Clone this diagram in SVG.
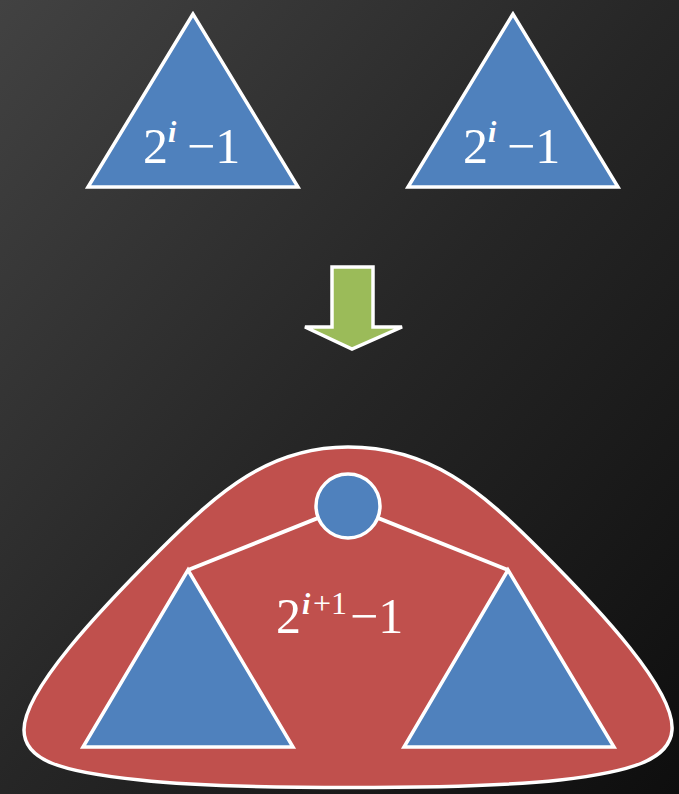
<svg xmlns="http://www.w3.org/2000/svg" width="679" height="794" viewBox="0 0 679 794">
  <defs>
    <linearGradient id="bg" x1="0" y1="0" x2="1" y2="1">
      <stop offset="0" stop-color="#424242"/>
      <stop offset="0.5" stop-color="#262626"/>
      <stop offset="1" stop-color="#0e0e0e"/>
    </linearGradient>
  </defs>
  <style>
    .tri { fill: #4F81BD; stroke: #FFFFFF; stroke-width: 3.5; stroke-linejoin: miter; }
    .lbl { fill: #FFFFFF; font-family: "Liberation Serif", "Times New Roman", serif; font-size: 50px; }
    .sup { fill: #FFFFFF; font-family: "Liberation Serif", "Times New Roman", serif; font-style: italic; font-weight: bold; font-size: 30px; }
    .sup2 { fill: #FFFFFF; font-family: "Liberation Serif", "Times New Roman", serif; font-size: 32px; }
    .edge { stroke: #FFFFFF; stroke-width: 4; fill: none; }
  </style>
  <rect x="0" y="0" width="679" height="794" fill="url(#bg)"/>

  <g id="tree-left">
    <polygon class="tri" points="193,14 88,187 298,187"/>
    <text class="lbl" x="143" y="163">2</text>
    <text class="sup" x="168" y="142">i</text>
    <text class="lbl" x="187" y="163">−1</text>
  </g>

  <g id="tree-right">
    <polygon class="tri" points="513,14 408,187 618,187"/>
    <text class="lbl" x="463" y="163">2</text>
    <text class="sup" x="488" y="142">i</text>
    <text class="lbl" x="507" y="163">−1</text>
  </g>

  <g id="arrow">
    <polygon points="332,267 373,267 373,327 402,327 352,349 305,327 332,327" fill="#9BBB59" stroke="#FFFFFF" stroke-width="3.5" stroke-linejoin="miter"/>
  </g>

  <g id="combined">
    <path d="M 348,447 C 430,447 480,490 540,550 C 600,610 675,690 672,730 C 670,760 630,772 560,780 C 470,790 230,790 140,780 C 60,772 24,760 24,730 C 24,690 100,610 160,550 C 220,490 270,447 348,447 Z" fill="#C0504D" stroke="#FFFFFF" stroke-width="3.5"/>
    <g id="connectors">
      <line class="edge" x1="348" y1="506" x2="188" y2="570"/>
      <line class="edge" x1="348" y1="506" x2="508" y2="570"/>
    </g>
    <g id="root">
      <circle cx="348" cy="506" r="32" fill="#4F81BD" stroke="#FFFFFF" stroke-width="3.5"/>
    </g>
    <g id="subtree-left">
      <polygon class="tri" points="188,570 83,747 293,747"/>
    </g>
    <g id="subtree-right">
      <polygon class="tri" points="508,570 404,747 614,747"/>
    </g>
    <text class="lbl" x="276" y="633">2</text>
    <text class="sup" x="302" y="614" font-size="32">i</text>
    <text class="sup2" x="313" y="614">+1</text>
    <text class="lbl" x="350" y="633">−1</text>
  </g>
</svg>
